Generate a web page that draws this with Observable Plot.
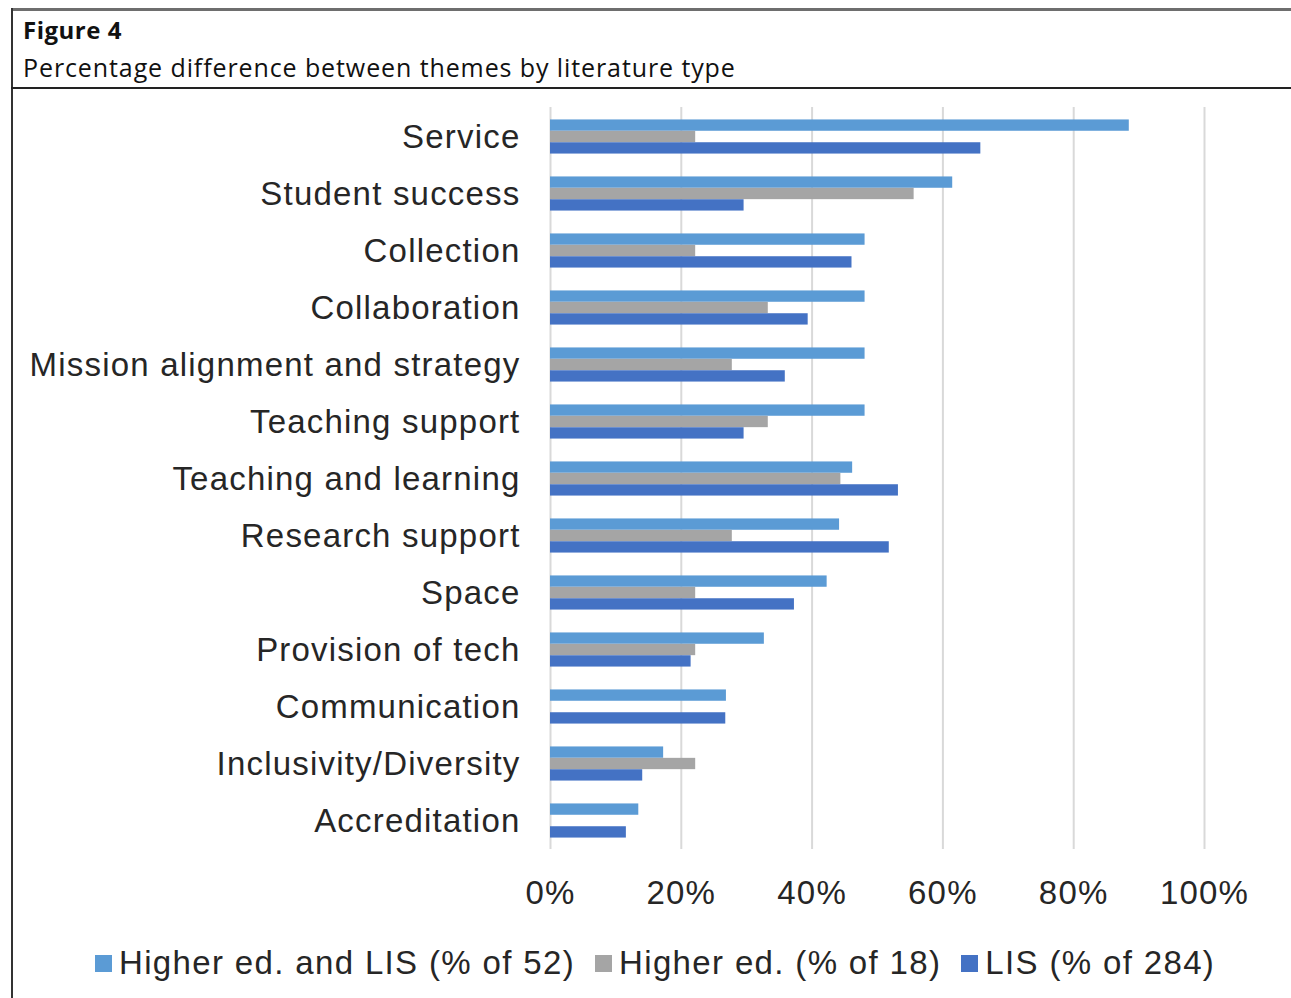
<!DOCTYPE html>
<html>
<head>
<meta charset="utf-8">
<script src="https://cdn.jsdelivr.net/npm/d3@7"></script>
<script src="https://cdn.jsdelivr.net/npm/@observablehq/plot@0.6"></script>
<style>
  html, body { margin: 0; padding: 0; background: #fff; }
  body { width: 1291px; height: 998px; position: relative; overflow: hidden; }
  .abs { position: absolute; }
  #topline { left: 11px; top: 8px; width: 1280px; height: 3px; background: #6e6e6e; }
  #leftline { left: 11px; top: 8px; width: 1.5px; height: 990px; background: #333; }
  #sepline { left: 11px; top: 87px; width: 1280px; height: 1.6px; background: #222; }
  #title { left: 23px; top: 14px; font-family: "Open Sans", "Noto Sans", sans-serif; font-weight: 700; font-size: 24px; letter-spacing: 0.5px; color: #111; line-height: 32px; white-space: nowrap; }
  #subtitle { left: 23px; top: 51px; font-family: "Open Sans", "Noto Sans", sans-serif; font-size: 25px; letter-spacing: 0.9px; color: #111; line-height: 32px; white-space: nowrap; }
  #chart { left: 0; top: 90px; }
  #chart text { letter-spacing: 1.2px; }
  #legend { left: 95px; top: 946px; height: 34px; display: flex; align-items: center;
            font-family: "Liberation Sans", Arial, sans-serif; font-size: 33px; letter-spacing: 1.35px; color: #262626; white-space: nowrap; }
  .item { display: flex; align-items: center; margin-right: 20px; }
  .sw { width: 17px; height: 17px; margin-right: 7px; }
</style>
</head>
<body>
<div id="topline" class="abs"></div>
<div id="leftline" class="abs"></div>
<div id="sepline" class="abs"></div>
<div id="title" class="abs">Figure 4</div>
<div id="subtitle" class="abs">Percentage difference between themes by literature type</div>
<div id="chart" class="abs"></div>
<div id="legend" class="abs"></div>
<script>
const categories = [
  "Service", "Student success", "Collection", "Collaboration",
  "Mission alignment and strategy", "Teaching support", "Teaching and learning",
  "Research support", "Space", "Provision of tech", "Communication",
  "Inclusivity/Diversity", "Accreditation"
];
const seriesNames = ["Higher ed. and LIS (% of 52)", "Higher ed. (% of 18)", "LIS (% of 284)"];
const higherEdAndLIS = [88.5, 61.5, 48.1, 48.1, 48.1, 48.1, 46.2, 44.2, 42.3, 32.7, 26.9, 17.3, 13.5];
const higherEd       = [22.2, 55.6, 22.2, 33.3, 27.8, 33.3, 44.4, 27.8, 22.2, 22.2, 0, 22.2, 0];
const lis            = [65.8, 29.6, 46.1, 39.4, 35.9, 29.6, 53.2, 51.8, 37.3, 21.5, 26.8, 14.1, 11.6];
const xTicks = [0, 20, 40, 60, 80, 100];
const colors = ["#5B9BD5", "#A5A5A5", "#4472C4"];

const seriesValues = [higherEdAndLIS, higherEd, lis];

const W = 1291, H = 830, mTop = 17, mBottom = 71, mLeft = 550, mRight = 87;
const step = (H - mTop - mBottom) / categories.length;
const barH = 11.4;
const groupOff = (step - seriesNames.length * barH) / 2;
const font = "'Liberation Sans', Arial, sans-serif";

const marks = [
  Plot.gridX(xTicks, {stroke: "#d9d9d9", strokeOpacity: 1, strokeWidth: 2})
];
seriesValues.forEach((vals, i) => {
  const data = categories.map((c, j) => ({category: c, value: vals[j], series: seriesNames[i]}));
  marks.push(Plot.barX(data.filter(d => d.value > 0), {
    x: "value", y: "category", fill: colors[i],
    insetTop: groupOff + i * barH,
    insetBottom: step - groupOff - (i + 1) * barH
  }));
});
marks.push(Plot.axisX(xTicks, {tickSize: 0, tickPadding: 31, tickFormat: d => d + "%", fontSize: 33, fill: "#262626", label: null}));
marks.push(Plot.axisY({tickSize: 0, tickPadding: 30, fontSize: 33, fill: "#262626", label: null}));

const chart = Plot.plot({
  width: W, height: H,
  marginTop: mTop, marginBottom: mBottom, marginLeft: mLeft, marginRight: mRight,
  x: {domain: [0, 100]},
  y: {domain: categories, padding: 0, label: null},
  style: {fontFamily: font, background: "transparent", color: "#262626"},
  marks
});
document.getElementById("chart").appendChild(chart);

const legend = document.getElementById("legend");
seriesNames.forEach((name, i) => {
  const item = document.createElement("div");
  item.className = "item";
  const sw = document.createElement("div");
  sw.className = "sw";
  sw.style.background = colors[i];
  const t = document.createElement("span");
  t.textContent = name;
  item.appendChild(sw);
  item.appendChild(t);
  legend.appendChild(item);
});
</script>
</body>
</html>
